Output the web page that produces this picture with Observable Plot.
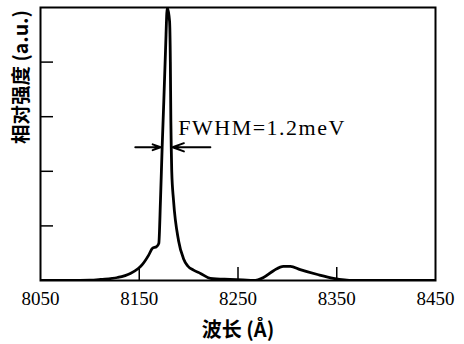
<!DOCTYPE html>
<html>
<head>
<meta charset="utf-8">
<script src="https://cdn.jsdelivr.net/npm/d3@7"></script>
<script src="https://cdn.jsdelivr.net/npm/@observablehq/plot@0.6"></script>
<style>
  html, body { margin: 0; padding: 0; background: #fff; }
</style>
</head>
<body>
<div id="chart"></div>
<script>
// Spectrum trace: wavelength (Å) and relative intensity (a.u.)
const wavelength = [8050, 8080, 8100, 8111, 8128, 8141, 8149, 8153, 8159.4, 8163.4, 8167.5, 8169.8,
  8171.5, 8173.2, 8174.9, 8176.6, 8178.4, 8180.7, 8181.5, 8182.0, 8182.4, 8182.9, 8184.7,
  8189.8, 8194.8, 8198.9, 8205, 8212, 8222, 8242, 8255, 8265.7, 8275.8, 8286, 8296, 8303, 8313,
  8330.5, 8346.7, 8367, 8400, 8450];
const intensity = [0, 0, 0.005, 0.02, 0.055, 0.13, 0.22, 0.29, 0.46, 0.59, 0.62, 0.68,
  1.47, 2.44, 3.3, 4.21, 5.0, 4.75, 4.0, 2.93, 2.44, 2.0, 1.47,
  0.73, 0.40, 0.27, 0.19, 0.13, 0.04, 0.02, 0.01, 0, 0.055, 0.18, 0.26, 0.26, 0.2,
  0.11, 0.04, 0, 0, 0];

const xTickLabels = [8050, 8150, 8250, 8350, 8450];
const xInnerTicks = [8150, 8250, 8350];
const yInnerTicks = [1, 2, 3, 4];
const xLabel = "波长 (Å)";
const yLabel = "相对强度 (a.u.)";
const fwhmLabel = "FWHM=1.2meV";
const fwhmLevel = 2.44;
const fwhmArrows = [
  {from: 8146, to: 8171.6},
  {from: 8222, to: 8183.8}
];
const fwhmTextAt = {x: 8189.5, y: 2.8};

const spectrum = wavelength.map((w, i) => ({w, v: intensity[i]}));

const W = 464, H = 344;
const mL = 40, mR = 29, mT = 7, mB = 64;
const plotW = W - mL - mR, plotH = H - mT - mB;
const serif = "Liberation Serif";
const cjk = "Noto Sans CJK SC";

const chart = Plot.plot({
  width: W,
  height: H,
  marginLeft: mL,
  marginRight: mR,
  marginTop: mT,
  marginBottom: mB,
  x: {domain: [8050, 8450], axis: null},
  y: {domain: [0, 5], axis: null},
  style: {background: "#fff", color: "#000", overflow: "visible"},
  marks: [
    Plot.line(spectrum, {x: "w", y: "v", stroke: "#000", strokeWidth: 2.8, curve: "monotone-x", clip: true}),
    Plot.tickY(yInnerTicks, {y: d => d, stroke: "#000", strokeWidth: 1.5, insetRight: plotW - 13}),
    Plot.tickX(xInnerTicks, {x: d => d, stroke: "#000", strokeWidth: 1.5, insetTop: plotH - 13}),
    Plot.frame({stroke: "#000", strokeWidth: 2}),
    Plot.arrow(fwhmArrows, {x1: "from", x2: "to", y1: () => fwhmLevel, y2: () => fwhmLevel,
      stroke: "#000", strokeWidth: 2, headLength: 9, headAngle: 40}),
    Plot.text([fwhmLabel], {x: () => fwhmTextAt.x, y: () => fwhmTextAt.y, text: d => d,
      textAnchor: "start", lineAnchor: "middle", fontSize: 22, fontFamily: serif, fill: "#000"}),
    Plot.text(xTickLabels, {x: d => d, text: d => String(d), frameAnchor: "bottom", dy: 18,
      lineAnchor: "middle", fontSize: 19, fontFamily: serif, fill: "#000"}),
    Plot.text([xLabel], {frameAnchor: "bottom", dy: 50, lineAnchor: "middle",
      fontSize: 20, fontWeight: "bold", fontFamily: cjk, fill: "#000"}),
    Plot.text([yLabel], {frameAnchor: "left", dx: -19, rotate: -90, lineAnchor: "middle",
      fontSize: 19.5, fontWeight: "bold", fontFamily: cjk, fill: "#000"})
  ]
});

d3.select(chart).selectAll("text").filter(function() { return this.textContent === fwhmLabel; })
  .attr("letter-spacing", "1.5px");

document.getElementById("chart").appendChild(chart);
</script>
</body>
</html>
